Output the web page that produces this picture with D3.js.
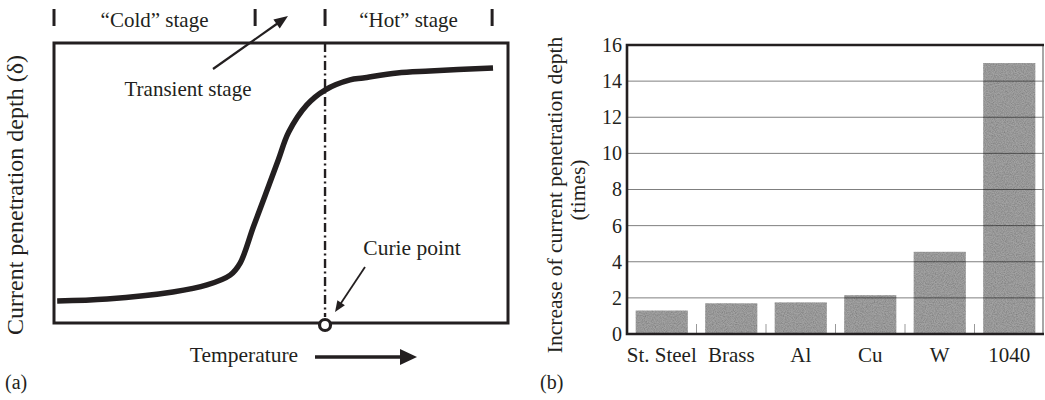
<!DOCTYPE html>
<html>
<head>
<meta charset="utf-8">
<script src="https://cdn.jsdelivr.net/npm/d3@7/dist/d3.min.js"></script>
<style>
  html, body { margin: 0; padding: 0; background: #fff; }
  svg { display: block; font-family: "Liberation Serif", "Times New Roman", serif; fill: #231f20; }
</style>
</head>
<body>
<svg id="fig" width="1045" height="400">
  <defs>
    <filter id="grain" x="0" y="0" width="1" height="1">
      <feTurbulence type="fractalNoise" baseFrequency="0.9" numOctaves="2" seed="7" result="noise"/>
      <feColorMatrix in="noise" type="matrix"
        values="0 0 0 0 0  0 0 0 0 0  0 0 0 0 0  0.7 0 0 0 -0.22" result="speck"/>
      <feComposite in="speck" in2="SourceGraphic" operator="in" result="speckIn"/>
      <feMerge><feMergeNode in="SourceGraphic"/><feMergeNode in="speckIn"/></feMerge>
    </filter>
  </defs>
</svg>
<script>
// ---- Panel (a): penetration depth vs. temperature (schematic, normalised 0–100 units)
const curveTemp  = [0.7, 11.7, 26.2, 33.7, 38.8, 41.0, 43.9, 46.7, 49.4, 51.7, 55.7, 59.7, 65.2, 68.1, 75.6, 82.8, 96.7];
const curveDepth = [7.9, 8.6, 11.1, 13.6, 17.1, 21.4, 34.3, 46.4, 58.2, 68.2, 77.9, 83.2, 86.8, 87.5, 89.3, 90.0, 91.1];
const stageBounds = [0, 44.3, 59.7, 96.5];
const stageNames = ["\u201CCold\u201D stage", "\u201CHot\u201D stage"];
const curieTemp = 59.7;

// ---- Panel (b): increase of current penetration depth by material
const materials = ["St. Steel", "Brass", "Al", "Cu", "W", "1040"];
const increase  = [1.3, 1.7, 1.75, 2.15, 4.55, 15];
const yTicks    = [0, 2, 4, 6, 8, 10, 12, 14, 16];

const svg = d3.select("#fig");
const ink = "#231f20";

function arrow(g, x1, y1, x2, y2, len, half, width) {
  const dx = x2 - x1, dy = y2 - y1, d = Math.hypot(dx, dy);
  const ux = dx / d, uy = dy / d;
  const bx = x2 - ux * len, by = y2 - uy * len;
  g.append("line").attr("x1", x1).attr("y1", y1).attr("x2", bx + ux).attr("y2", by + uy)
    .attr("stroke", ink).attr("stroke-width", width);
  g.append("path")
    .attr("d", `M${x2},${y2}L${bx - uy * half},${by + ux * half}L${bx + uy * half},${by - ux * half}Z`)
    .attr("fill", ink);
}

// ================= Panel (a)
const A = { left: 54, right: 508, top: 43, bottom: 323 };
const ax = d3.scaleLinear().domain([0, 100]).range([A.left, A.right]);
const ay = d3.scaleLinear().domain([0, 100]).range([A.bottom, A.top]);
const ga = svg.append("g");

// dash-dot line at the Curie point
ga.append("line")
  .attr("x1", ax(curieTemp)).attr("x2", ax(curieTemp))
  .attr("y1", A.top).attr("y2", A.bottom - 6)
  .attr("stroke", ink).attr("stroke-width", 2.4)
  .attr("stroke-dasharray", "9,3.5,2,3.5");

// frame
ga.append("rect")
  .attr("x", A.left).attr("y", A.top)
  .attr("width", A.right - A.left).attr("height", A.bottom - A.top)
  .attr("fill", "none").attr("stroke", ink).attr("stroke-width", 3);

// curve
const pts = curveTemp.map((t, i) => [t, curveDepth[i]]);
ga.append("path")
  .datum(pts)
  .attr("d", d3.line().x(d => ax(d[0])).y(d => ay(d[1])).curve(d3.curveCatmullRom.alpha(0.5)))
  .attr("fill", "none").attr("stroke", ink).attr("stroke-width", 5.5)
  .attr("stroke-linecap", "butt");

// Curie point marker
ga.append("circle")
  .attr("cx", ax(curieTemp)).attr("cy", A.bottom + 2).attr("r", 5.5)
  .attr("fill", "#fff").attr("stroke", ink).attr("stroke-width", 3.2);

// stage bars and labels along the top
stageBounds.forEach(t => {
  ga.append("line").attr("x1", ax(t)).attr("x2", ax(t)).attr("y1", 9).attr("y2", 26)
    .attr("stroke", ink).attr("stroke-width", 3);
});
ga.append("text").attr("x", (ax(stageBounds[0]) + ax(stageBounds[1])) / 2).attr("y", 27)
  .attr("text-anchor", "middle").attr("font-size", 21).text(stageNames[0]);
ga.append("text").attr("x", (ax(stageBounds[2]) + ax(stageBounds[3])) / 2).attr("y", 27)
  .attr("text-anchor", "middle").attr("font-size", 21).text(stageNames[1]);

// transient stage annotation
ga.append("text").attr("x", 188).attr("y", 96).attr("text-anchor", "middle")
  .attr("font-size", 21).text("Transient stage");
arrow(ga, 213, 69, 288, 16, 14, 5.5, 2.2);

// Curie point annotation
ga.append("text").attr("x", 412).attr("y", 255).attr("text-anchor", "middle")
  .attr("font-size", 21.5).text("Curie point");
arrow(ga, 365, 267, ax(curieTemp) + 10, A.bottom - 11, 11, 4.5, 1.8);

// temperature axis label and arrow
ga.append("text").attr("x", 244).attr("y", 362).attr("text-anchor", "middle")
  .attr("font-size", 21.5).text("Temperature");
arrow(ga, 315, 357, 417, 357, 17, 8, 3.5);

// y title
ga.append("text")
  .attr("transform", "translate(23,195) rotate(-90)")
  .attr("text-anchor", "middle").attr("font-size", 24)
  .text("Current penetration depth (\u03B4)");

ga.append("text").attr("x", 5).attr("y", 389).attr("font-size", 20).text("(a)");

// ================= Panel (b)
const B = { left: 627, right: 1044, top: 45, bottom: 334 };
const bx = d3.scaleBand().domain(materials).range([B.left, B.right])
  .paddingInner(0.25).paddingOuter(0.125);
const by = d3.scaleLinear().domain([0, 16]).range([B.bottom, B.top]);
const gb = svg.append("g");

// bars
gb.selectAll("rect.bar").data(materials).join("rect")
  .attr("class", "bar")
  .attr("x", d => bx(d)).attr("width", bx.bandwidth())
  .attr("y", (d, i) => by(increase[i]))
  .attr("height", (d, i) => by(0) - by(increase[i]))
  .attr("fill", "#a2a2a2")
  .attr("filter", "url(#grain)");

// gridlines
gb.selectAll("line.grid").data(yTicks.filter(v => v > 0 && v < 16)).join("line")
  .attr("class", "grid")
  .attr("x1", B.left).attr("x2", B.right)
  .attr("y1", d => by(d)).attr("y2", d => by(d))
  .attr("stroke", "rgba(0,0,0,0.5)").attr("stroke-width", 1);

// small separators between categories
gb.selectAll("line.sep").data(materials.slice(1)).join("line")
  .attr("class", "sep")
  .attr("x1", d => bx(d) - bx.step() * bx.paddingInner() / 2)
  .attr("x2", d => bx(d) - bx.step() * bx.paddingInner() / 2)
  .attr("y1", B.bottom).attr("y2", B.bottom - 10)
  .attr("stroke", "#999").attr("stroke-width", 1);

// frame: right side light, other sides dark
gb.append("line").attr("x1", B.right - 1).attr("x2", B.right - 1)
  .attr("y1", B.top).attr("y2", B.bottom)
  .attr("stroke", "#8a8a8a").attr("stroke-width", 1.5);
gb.append("path")
  .attr("d", `M${B.right},${B.top}H${B.left}V${B.bottom}H${B.right}`)
  .attr("fill", "none").attr("stroke", ink).attr("stroke-width", 2.6);

// y axis labels
const yAxis = d3.axisLeft(by).tickValues(yTicks).tickSize(0).tickPadding(5);
const yG = gb.append("g").attr("transform", `translate(${B.left},0)`).call(yAxis);
yG.select(".domain").remove();
yG.selectAll("text").attr("font-size", 20).attr("font-family", "Liberation Serif").attr("fill", ink);

// x axis labels
const xAxis = d3.axisBottom(bx).tickSize(0).tickPadding(0);
const xG = gb.append("g").attr("transform", `translate(0,${B.bottom})`).call(xAxis);
xG.select(".domain").remove();
xG.selectAll("text").attr("font-size", 21).attr("font-family", "Liberation Serif")
  .attr("fill", ink).attr("dy", null).attr("y", 28);

// y title (two lines)
gb.append("text")
  .attr("transform", "translate(562,195) rotate(-90)")
  .attr("text-anchor", "middle").attr("font-size", 21.5)
  .text("Increase of current penetration depth");
gb.append("text")
  .attr("transform", "translate(585,190) rotate(-90)")
  .attr("text-anchor", "middle").attr("font-size", 21.5)
  .text("(times)");

gb.append("text").attr("x", 540).attr("y", 389).attr("font-size", 20).text("(b)");
</script>
</body>
</html>
